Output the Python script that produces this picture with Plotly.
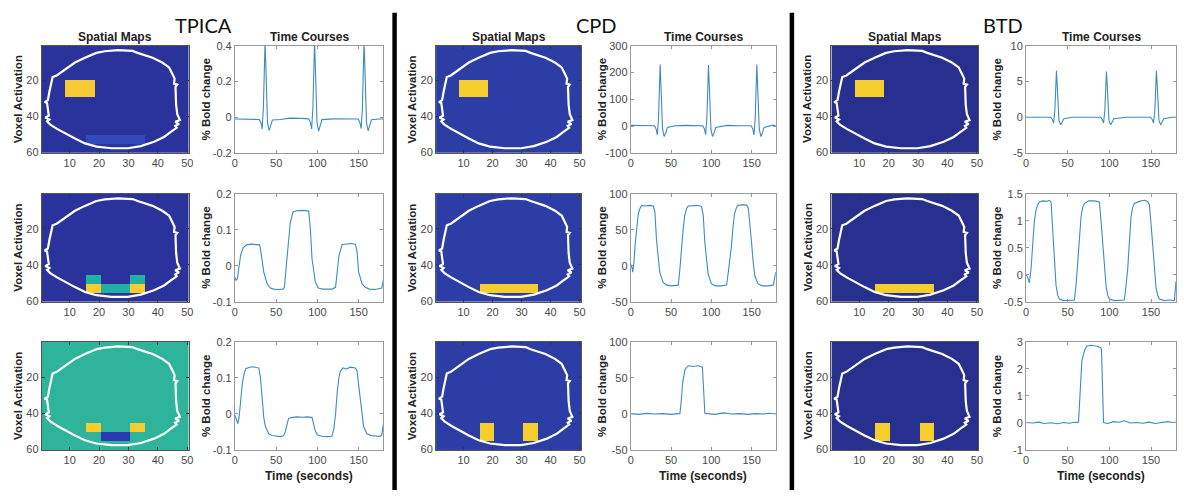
import plotly.graph_objects as go

W, H = 1184, 496

GROUPS = ["TPICA", "CPD", "BTD"]

# ---------- spatial maps (60 rows x 50 cols) ----------
N_ROWS, N_COLS = 60, 50
# background level per group, per row
MAP_BG = [[1, 1, 6], [2, 2, 2], [0, 0, 0]]
# blocks: (row_start, row_end, col_start, col_end, level)
MAP_BLOCKS = [
    [
        [(20, 29, 9, 18, 8), (51, 55, 16, 35, 3)],
        [(46, 50, 16, 20, 5), (51, 55, 16, 20, 7), (51, 55, 21, 30, 5),
         (46, 50, 31, 35, 5), (51, 55, 31, 35, 7)],
        [(46, 50, 16, 20, 7), (46, 50, 31, 35, 7), (51, 55, 21, 30, 4)],
    ],
    [
        [(20, 29, 9, 18, 7)],
        [(51, 55, 16, 35, 7)],
        [(46, 55, 16, 20, 7), (46, 55, 31, 35, 7)],
    ],
    [
        [(20, 29, 9, 18, 7)],
        [(51, 55, 16, 35, 7)],
        [(46, 55, 16, 20, 7), (46, 55, 31, 35, 7)],
    ],
]
LEVEL_COLORS = ["#27308e", "#29339b", "#2c3da6", "#3349b8", "#2a38b4",
                "#22b0a5", "#2eb49b", "#f5cd2c", "#f6ca30"]

# head outline (column, row)
HEAD_X = [19.1, 21.9, 26.4, 31.4, 33.1, 35.4, 38.2, 41.5, 43.8, 44.9, 45.7, 45.5,
          46.6, 46.0, 46.0, 46.2, 46.6, 47.5, 45.9, 47.2, 45.9, 46.4, 44.3, 42.1,
          38.7, 34.2, 29.8, 24.2, 19.1, 15.2, 11.8, 8.5, 5.7, 3.4, 2.3, 3.1, 1.7,
          2.9, 2.6, 2.3, 1.5, 2.6, 3.1, 3.75, 4.2, 5.6, 8.5, 11.8, 15.2, 19.1]
HEAD_Y = [4.5, 3.6, 3.0, 3.4, 4.5, 5.6, 7.2, 9.9, 12.6, 16.2, 18.9, 21.7,
          22.2, 23.5, 28.0, 33.4, 38.8, 42.1, 43.0, 44.3, 45.3, 46.4, 48.8, 51.5,
          54.2, 56.6, 57.8, 57.8, 56.9, 55.1, 52.4, 49.7, 47.0, 44.6, 42.8, 41.7, 40.6,
          39.6, 35.2, 32.5, 32.0, 30.9, 26.2, 20.8, 18.0, 17.1, 13.5, 9.9, 7.2, 4.5]

# ---------- time courses ----------
SPIKE_T = [0, 10, 20, 29.5,
           31.5, 33, 34.5, 35.6, 36.5, 37.4, 38.4, 39.5, 41.5, 43.5, 45.5,
           55, 67, 80, 89.5,
           91.5, 93, 94.5, 95.6, 96.5, 97.4, 98.4, 99.5, 101.5, 103.5, 105.5,
           120, 135, 149.5,
           151.5, 153, 154.5, 155.6, 156.5, 157.4, 158.4, 159.5, 161.5, 163.5, 165.5,
           175, 180]
TPICA_TC1 = [-0.01, -0.011, -0.01, -0.012,
             -0.03, -0.065, 0.05, 0.3, 0.42, 0.3, 0.08, -0.03, -0.075, -0.05, -0.015,
             -0.012, -0.005, -0.006, -0.009,
             -0.03, -0.065, 0.05, 0.3, 0.42, 0.3, 0.08, -0.03, -0.077, -0.05, -0.013,
             -0.009, -0.008, -0.01,
             -0.03, -0.063, 0.05, 0.3, 0.42, 0.3, 0.08, -0.03, -0.076, -0.05, -0.014,
             -0.01, -0.01]
CPD_TC1 = [3, 2, 3, 2,
           -10, -32, 30, 160, 230, 160, 40, -10, -38, -25, -5,
           2, 3, 3, 2,
           -10, -31, 30, 160, 228, 160, 40, -10, -38, -25, -5,
           3, 2, 2,
           -10, -32, 30, 160, 230, 160, 40, -10, -38, -25, -5,
           3, 3]
BTD_TC1 = [0, 0, 0, 0,
           -0.3, -0.8, 0.8, 4.5, 6.5, 4.5, 1.2, -0.4, -1.05, -0.7, -0.2,
           0, 0, 0, 0,
           -0.3, -0.8, 0.8, 4.5, 6.4, 4.5, 1.2, -0.4, -1.05, -0.7, -0.2,
           0, 0, 0,
           -0.3, -0.8, 0.8, 4.5, 6.5, 4.5, 1.2, -0.4, -1.05, -0.7, -0.2,
           0, 0]

TPICA_TC2 = [(0, -0.032), (1.5, -0.041), (3, -0.035), (5, 0.0), (7, 0.03), (10, 0.05),
             (14, 0.058), (20, 0.06), (26, 0.059), (30, 0.058), (32, 0.03), (35, -0.018),
             (39, -0.05), (43, -0.062), (47, -0.065), (52, -0.066), (58, -0.065), (60, -0.06),
             (63, 0.018), (67, 0.118), (70.5, 0.15), (75, 0.153), (82, 0.154), (89.5, 0.152),
             (91.5, 0.1), (93.5, 0.018), (97.5, -0.045), (101, -0.062), (106, -0.065),
             (112, -0.066), (118, -0.065), (122, -0.06), (124, -0.02), (126, 0.027),
             (130, 0.059), (135, 0.06), (141, 0.062), (146, 0.06), (148, 0.04), (150, -0.018),
             (154, -0.05), (158, -0.06), (163, -0.065), (170, -0.066), (176, -0.064),
             (178, -0.062), (180, -0.04)]
TPICA_TC3 = [(0, -0.003), (2, -0.02), (3.6, -0.027), (5, -0.01), (7, 0.04), (9, 0.085),
             (11, 0.11), (13, 0.126), (18, 0.13), (22, 0.131), (26, 0.129), (29, 0.128),
             (31, 0.1), (33, 0.04), (35, -0.01), (37, -0.035), (41, -0.055), (45, -0.06),
             (50, -0.062), (55, -0.063), (59, -0.06), (61, -0.05), (63, -0.03), (65, -0.013),
             (68, -0.01), (75, -0.008), (82, -0.009), (88, -0.008), (93.5, -0.01),
             (95.5, -0.03), (97.5, -0.048), (100, -0.058), (105, -0.062), (112, -0.063),
             (117.5, -0.062), (120, -0.04), (122, 0.0), (124, 0.06), (126, 0.1), (128, 0.12),
             (131, 0.128), (135, 0.125), (140, 0.13), (146, 0.128), (148, 0.12), (150, 0.08),
             (152, 0.04), (154, 0.0), (156, -0.035), (160, -0.055), (165, -0.06),
             (170, -0.061), (176, -0.062), (178, -0.058), (180, -0.028)]
CPD_TC2 = [(0, 2), (1.5, -2), (2.5, -9), (4, 5), (5.5, 30), (6.6, 45), (8, 62), (9.5, 73),
           (11.5, 80), (13.6, 84), (18, 83), (23, 84), (28, 83), (30, 75), (32, 36), (34, 10),
           (36, -9), (40, -23), (44.6, -27), (50, -28), (55, -28), (59, -27), (61, -5),
           (63, 27), (65, 50), (67, 70), (69.5, 80), (71.5, 83), (78, 84), (84, 84), (88, 82),
           (90, 70), (92, 32), (94, 5), (96, -11), (100, -25), (105, -28), (112, -28),
           (119, -27), (121, -10), (123, 5), (125, 27), (127, 55), (129, 73), (131, 80),
           (133, 84), (140, 85), (144, 84), (146, 80), (148, 60), (150, 32), (152, 5),
           (154, -14), (158, -25), (163, -28), (170, -28), (177, -27), (180, -9)]
CPD_TC3 = [(0, 0.5), (10, -0.5), (20, 0.8), (30, 0), (40, 0.5), (50, -0.5), (58, 0.5),
           (61, 0.5), (62.5, 15), (64.5, 44), (67.4, 62), (71.5, 67), (78, 66), (84, 67),
           (89, 65), (90.5, 40), (92, 1), (95, 0.5), (105, -0.5), (115, 1.5), (125, 0),
           (135, 0.5), (145, -0.5), (155, 0.5), (165, 0), (172, 1), (180, 0)]
BTD_TC2 = [(0, 0.01), (2, -0.05), (4, -0.15), (5, -0.05), (6, 0.1), (7.5, 0.45), (8.8, 0.77),
           (10, 1.0), (12, 1.2), (14, 1.3), (16, 1.35), (20, 1.37), (25, 1.36), (28, 1.38),
           (30, 1.35), (31.5, 1.0), (33, 0.59), (34.5, 0.2), (36, -0.2), (38, -0.38),
           (40, -0.45), (45, -0.48), (52, -0.48), (58, -0.47), (60, -0.2), (62, 0.16),
           (64, 0.65), (66, 1.07), (68, 1.25), (70, 1.32), (75, 1.37), (82, 1.37), (88, 1.35),
           (90, 1.0), (92, 0.59), (94, 0.2), (96, -0.2), (98, -0.38), (100, -0.45),
           (106, -0.48), (112, -0.48), (118, -0.47), (120, -0.2), (122, 0.1), (124, 0.6),
           (126, 1.07), (128, 1.25), (130, 1.32), (136, 1.36), (142, 1.38), (146, 1.36),
           (148, 1.3), (150, 0.95), (152, 0.59), (154, 0.15), (156, -0.24), (158, -0.38),
           (160, -0.45), (166, -0.48), (172, -0.47), (178, -0.48), (180, -0.12)]
BTD_TC3 = [(0, 0.02), (8, 0.0), (15, 0.03), (22, -0.02), (30, 0.01), (38, -0.03), (45, 0.02),
           (52, -0.01), (58, 0.03), (62, 0.02), (63, 0.05), (65, 1.2), (67, 2.3), (69, 2.55),
           (71, 2.75), (73, 2.85), (78, 2.88), (84, 2.85), (89, 2.8), (90.5, 2.75), (92, 1.0),
           (93, 0.02), (98, -0.02), (105, 0.05), (112, 0.03), (118, 0.08), (125, 0.0),
           (132, 0.02), (140, -0.01), (148, 0.03), (155, -0.02), (162, 0.0), (170, 0.05),
           (176, 0.02), (180, 0.03)]

TC_YRANGE = [[[-0.2, 0.4], [-0.1, 0.2], [-0.1, 0.2]],
             [[-100, 300], [-50, 100], [-50, 100]],
             [[-5, 10], [-0.5, 1.5], [-1, 3]]]
TC_YTICKS = [[[-0.2, 0, 0.2, 0.4], [-0.1, 0, 0.1, 0.2], [-0.1, 0, 0.1, 0.2]],
             [[-100, 0, 100, 200, 300], [-50, 0, 50, 100], [-50, 0, 50, 100]],
             [[-5, 0, 5, 10], [-0.5, 0, 0.5, 1, 1.5], [-1, 0, 1, 2, 3]]]
TC_XTICKS = [0, 50, 100, 150]
HM_XTICKS = [10, 20, 30, 40, 50]
HM_YTICKS = [20, 40, 60]

# ---------- layout geometry (pixels) ----------
HM_X = [(39, 187), (436, 582), (834, 982)]
TC_X = [(233.5, 383), (632, 778), (1030, 1181)]
ROW_Y = [(40.7, 150.7), (192.5, 303), (344.3, 455)]
TITLE_X = [202, 598, 1007]
SEP_X = [(392, 396.5), (792, 796.5)]

FONT = "Liberation Sans, Arial, sans-serif"
TICK_FONT = dict(family=FONT, size=11, color="#4a4a4a")
LINE_COLOR = "#3d8cbd"


def px_x(v):
    return v / W


def px_y(v):
    return 1 - v / H


def tc_series(g, r):
    if r == 0:
        vals = [TPICA_TC1, CPD_TC1, BTD_TC1][g]
        return SPIKE_T, vals
    pairs = [[TPICA_TC2, TPICA_TC3], [CPD_TC2, CPD_TC3], [BTD_TC2, BTD_TC3]][g][r - 1]
    return [p[0] for p in pairs], [p[1] for p in pairs]


def build_grid(g, r):
    grid = [[MAP_BG[g][r]] * N_COLS for _ in range(N_ROWS)]
    for (r0, r1, c0, c1, lev) in MAP_BLOCKS[g][r]:
        for i in range(r0 - 1, r1):
            for j in range(c0 - 1, c1):
                grid[i][j] = lev
    return grid


n_lev = len(LEVEL_COLORS)
colorscale = []
for k, c in enumerate(LEVEL_COLORS):
    colorscale.append([k / n_lev, c])
    colorscale.append([(k + 1) / n_lev, c])

fig = go.Figure()
layout = {}
annotations = []
ax = 0

for g in range(3):
    for r in range(3):
        y0, y1 = ROW_Y[r]
        ydom = [px_y(y1), px_y(y0)]

        # heatmap axes
        ax += 1
        xa = "x" if ax == 1 else f"x{ax}"
        ya = "y" if ax == 1 else f"y{ax}"
        fig.add_trace(go.Heatmap(
            z=build_grid(g, r), x=list(range(1, N_COLS + 1)), y=list(range(1, N_ROWS + 1)),
            colorscale=colorscale, zmin=-0.5, zmax=n_lev - 0.5, showscale=False,
            xaxis=xa, yaxis=ya, hoverinfo="skip"))
        fig.add_trace(go.Scatter(
            x=HEAD_X, y=HEAD_Y, mode="lines", line=dict(color="white", width=2.2),
            xaxis=xa, yaxis=ya, hoverinfo="skip", showlegend=False))
        layout["xaxis" if ax == 1 else f"xaxis{ax}"] = dict(
            domain=[px_x(HM_X[g][0]), px_x(HM_X[g][1])], anchor=ya,
            range=[0.5, N_COLS + 0.5], tickvals=HM_XTICKS, ticks="inside", ticklen=3,
            tickcolor="#333", showline=True, mirror="ticks", linecolor="#555", linewidth=1,
            showgrid=False, zeroline=False, tickfont=TICK_FONT)
        layout["yaxis" if ax == 1 else f"yaxis{ax}"] = dict(
            domain=ydom, anchor=xa, range=[N_ROWS + 0.5, 0.5], tickvals=HM_YTICKS,
            ticks="inside", ticklen=3, tickcolor="#333", showline=True, mirror="ticks",
            linecolor="#555", linewidth=1, showgrid=False, zeroline=False, tickfont=TICK_FONT)

        # time course axes
        ax += 1
        xa = f"x{ax}"
        ya = f"y{ax}"
        t, v = tc_series(g, r)
        fig.add_trace(go.Scatter(
            x=t, y=v, mode="lines", line=dict(color=LINE_COLOR, width=1.1),
            xaxis=xa, yaxis=ya, hoverinfo="skip", showlegend=False))
        layout[f"xaxis{ax}"] = dict(
            domain=[px_x(TC_X[g][0]), px_x(TC_X[g][1])], anchor=ya,
            range=[0, 180], tickvals=TC_XTICKS, ticktext=[f"{x:g}" for x in TC_XTICKS],
            ticks="inside", ticklen=3, tickcolor="#999", showline=True, mirror="ticks",
            linecolor="#9a9a9a", linewidth=1, showgrid=False, zeroline=False,
            tickfont=TICK_FONT)
        layout[f"yaxis{ax}"] = dict(
            domain=ydom, anchor=xa, range=TC_YRANGE[g][r], tickvals=TC_YTICKS[g][r],
            ticktext=[f"{y:g}" for y in TC_YTICKS[g][r]],
            ticks="inside", ticklen=3, tickcolor="#999", showline=True, mirror="ticks",
            linecolor="#9a9a9a", linewidth=1, showgrid=False, zeroline=False,
            tickfont=TICK_FONT)

        # y-axis labels
        annotations.append(dict(
            text="<b>Voxel Activation</b>", x=px_x(HM_X[g][0] - 24), y=(ydom[0] + ydom[1]) / 2,
            xref="paper", yref="paper", showarrow=False, textangle=-90,
            font=dict(family=FONT, size=11.5, color="#222"), xanchor="center", yanchor="middle"))
        annotations.append(dict(
            text="<b>% Bold change</b>", x=px_x(TC_X[g][0] - 29), y=(ydom[0] + ydom[1]) / 2,
            xref="paper", yref="paper", showarrow=False, textangle=-90,
            font=dict(family=FONT, size=11.5, color="#222"), xanchor="center", yanchor="middle"))

    # group title and panel titles
    annotations.append(dict(
        text=GROUPS[g], x=px_x(TITLE_X[g]), y=px_y(19), xref="paper", yref="paper",
        showarrow=False, font=dict(family="Lato, sans-serif", size=20, color="#111"),
        xanchor="center", yanchor="middle"))
    annotations.append(dict(
        text="<b>Spatial Maps</b>", x=px_x((HM_X[g][0] + HM_X[g][1]) / 2), y=px_y(32),
        xref="paper", yref="paper", showarrow=False,
        font=dict(family=FONT, size=12, color="#222"), xanchor="center", yanchor="middle"))
    annotations.append(dict(
        text="<b>Time Courses</b>", x=px_x((TC_X[g][0] + TC_X[g][1]) / 2), y=px_y(32),
        xref="paper", yref="paper", showarrow=False,
        font=dict(family=FONT, size=12, color="#222"), xanchor="center", yanchor="middle"))
    annotations.append(dict(
        text="<b>Time (seconds)</b>", x=px_x((TC_X[g][0] + TC_X[g][1]) / 2), y=px_y(482),
        xref="paper", yref="paper", showarrow=False,
        font=dict(family=FONT, size=12, color="#222"), xanchor="center", yanchor="middle"))

shapes = [dict(type="rect", xref="paper", yref="paper", x0=px_x(a), x1=px_x(b),
               y0=0, y1=px_y(7), fillcolor="black", line=dict(width=0))
          for a, b in SEP_X]

fig.update_layout(
    width=W, height=H, margin=dict(l=0, r=0, t=0, b=0),
    paper_bgcolor="white", plot_bgcolor="white", showlegend=False,
    annotations=annotations, shapes=shapes, **layout)

fig.write_html(
    "out.html",
    config={"displayModeBar": False},
    post_script="document.body.style.margin='0';document.body.style.overflow='hidden';")
